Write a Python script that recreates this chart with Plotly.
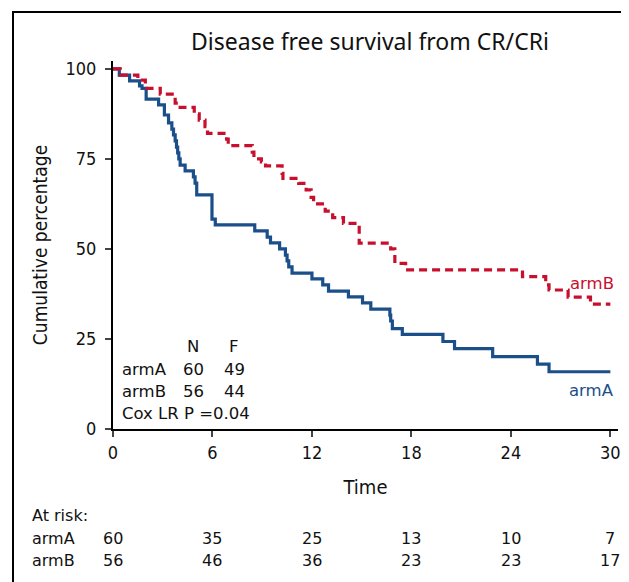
import plotly.graph_objects as go

# ---- data ----
armA_time = [0, 0.38, 1.0, 1.6, 1.75, 2.0, 2.75, 3.1, 3.35, 3.55, 3.65, 3.75, 3.83, 3.9, 3.97, 4.05,
             4.35, 4.85, 4.95, 5.05, 5.97, 6.17, 8.55, 9.3, 9.5, 10.05, 10.4, 10.5, 10.6, 10.8,
             12.0, 12.65, 13.0, 14.2, 15.05, 15.55, 16.7, 16.75, 16.85, 17.45, 19.9, 20.6,
             22.9, 25.6, 26.3, 30.0]
armA_surv = [100, 98.3, 96.7, 95.3, 94.6, 91.6, 90.0, 87.2, 85.0, 83.3, 81.7, 80.0, 78.3, 76.7, 75.0, 73.3,
             71.7, 70.0, 68.3, 65.0, 58.3, 56.7, 55.0, 53.3, 51.7, 50.0, 48.3, 46.7, 45.0, 43.3,
             41.7, 40.0, 38.3, 36.7, 35.0, 33.3, 31.6, 30.0, 27.9, 26.3, 24.3, 22.3,
             20.1, 18.0, 15.9, 15.9]

armB_time = [0, 0.44, 1.5, 1.95, 2.85, 3.75, 4.05, 4.9, 5.2, 5.55, 5.7, 6.85, 6.95, 8.4, 8.5, 8.95,
             9.2, 10.2, 10.25, 11.2, 11.65, 11.95, 12.1, 12.8, 13.25, 13.9, 14.85, 16.75, 17.0,
             17.65, 24.7, 26.1, 26.3, 27.45, 28.8, 30.0]
armB_surv = [100, 98.3, 96.9, 94.6, 93.0, 90.5, 89.3, 87.5, 85.8, 84.0, 82.1, 80.5, 78.7, 76.9, 75.0, 74.2,
             73.1, 71.0, 69.6, 68.2, 66.4, 64.3, 62.5, 60.5, 58.7, 57.1, 51.6, 50.0, 46.0,
             44.2, 42.3, 40.0, 38.6, 36.6, 34.7, 34.7]

x_ticks = [0, 6, 12, 18, 24, 30]
y_ticks = [0, 25, 50, 75, 100]
risk_A = [60, 35, 25, 13, 10, 7]
risk_B = [56, 46, 36, 23, 23, 17]
events_A, events_B = 49, 44

BLUE = "#1b4f8a"
RED = "#c8102e"
TTL = "Noto Sans"
TXT = "DejaVu Sans"
NARROW = "Liberation Sans Narrow, DejaVu Sans Condensed, Roboto"

OFF = 8  # page body margin
W, H = 629 - OFF, 582 - OFF
# screen positions of plot area
SX0, SX1, SY0, SY1 = 113, 618, 61, 429
L, R, T, B = SX0 - OFF, W - (SX1 - OFF), SY0 - OFF, H - (SY1 - OFF)
pw, ph = W - L - R, H - T - B


def paper_x(sx):
    return (sx - SX0) / pw


def paper_y(sy):
    return (SY1 - sy) / ph


fig = go.Figure()
fig.add_trace(go.Scatter(x=armA_time, y=armA_surv, mode="lines", line_shape="hv",
                         line=dict(color=BLUE, width=3.2), showlegend=False, hoverinfo="skip"))
fig.add_trace(go.Scatter(x=armB_time, y=armB_surv, mode="lines", line_shape="hv",
                         line=dict(color=RED, width=3.2, dash="8px,5px"), showlegend=False,
                         hoverinfo="skip"))

fig.update_layout(
    width=W, height=H,
    margin=dict(l=L, r=R, t=T, b=B, pad=0, autoexpand=False),
    paper_bgcolor="white", plot_bgcolor="white",
    title=dict(text="Disease free survival from CR/CRi", x=(370 - OFF) / W, xanchor="center",
               y=1 - (42 - OFF) / H, yanchor="middle", font=dict(family=TTL, size=23, color="#111")),
    xaxis=dict(range=[0, 30.46], tickvals=x_ticks, ticks="outside", ticklen=6, tickwidth=2,
               showline=True, linewidth=2, linecolor="black", showgrid=False, zeroline=False,
               automargin=False,
               tickfont=dict(family=NARROW, size=18, color="#111"),
               title=dict(text="Time", font=dict(family=NARROW, size=20, color="#111"), standoff=18)),
    yaxis=dict(range=[0, 102.2], tickvals=y_ticks, ticks="outside", ticklen=6, tickwidth=2,
               showline=True, linewidth=2, linecolor="black", showgrid=False, zeroline=False,
               automargin=False, ticklabelstandoff=5,
               tickfont=dict(family=NARROW, size=18, color="#111"),
               title=dict(text="Cumulative percentage", font=dict(family=NARROW, size=19, color="#111"),
                          standoff=13)),
)

# frame border
fig.add_shape(type="rect", xref="paper", yref="paper",
              x0=paper_x(13), x1=paper_x(660), y0=paper_y(620), y1=paper_y(12),
              line=dict(color="black", width=2), fillcolor="rgba(0,0,0,0)", layer="below")

ann = []
fs = 16.5
dark = "#111"


def txt(x, y, s, xref="x", yref="y", xanchor="center", color=dark, size=fs):
    ann.append(dict(x=x, y=y, text=s, xref=xref, yref=yref, xanchor=xanchor, yanchor="middle",
                    showarrow=False, borderpad=0, font=dict(family=TXT, size=size, color=color)))


# N / F table inside plot
txt(4.85, 23.0, "N")
txt(7.3, 23.0, "F")
for name, n, f, yy in [("armA", risk_A[0], events_A, 16.4), ("armB", risk_B[0], events_B, 10.3)]:
    txt(0.5, yy, name, xanchor="left")
    txt(4.85, yy, str(n))
    txt(7.3, yy, str(f))
txt(0.5, 4.4, "Cox LR P =0.04", xanchor="left")

# curve labels
txt(30.25, 40.3, "armB", xanchor="right", color=RED)
txt(30.25, 10.8, "armA", xanchor="right", color=BLUE)

# at-risk table
rs = 16
txt(paper_x(31), paper_y(516), "At risk:", xref="paper", yref="paper", xanchor="left", size=rs)
for name, vals, yp in [("armA", risk_A, 538), ("armB", risk_B, 560)]:
    txt(paper_x(31), paper_y(yp), name, xref="paper", yref="paper", xanchor="left", size=rs)
    for xv, v in zip(x_ticks, vals):
        txt(xv, paper_y(yp), str(v), xref="x", yref="paper", size=rs)

fig.update_layout(annotations=ann)
fig.write_html("out.html")
